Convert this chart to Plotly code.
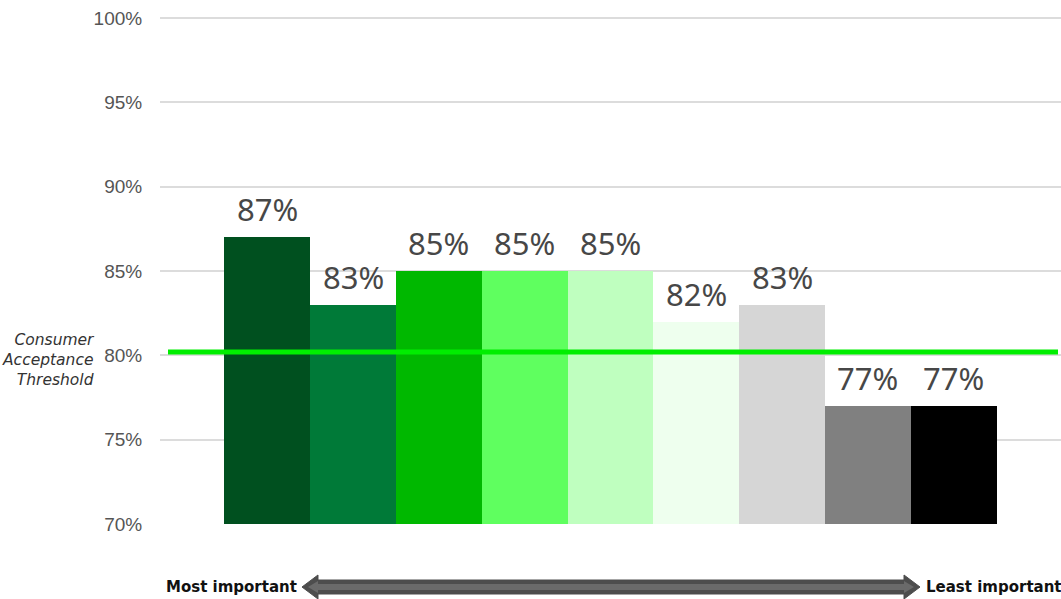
import plotly.graph_objects as go

# ---- data ----
ranks = ["1", "2", "3", "4", "5", "6", "7", "8", "9"]
values = [87, 83, 85, 85, 85, 82, 83, 77, 77]
colors = ["#00501F", "#007A38", "#00B800", "#5FFF5F", "#BFFFBF",
          "#EEFFEE", "#D6D6D6", "#808080", "#000000"]
threshold = 80.2
tick_vals = [70, 75, 80, 85, 90, 95, 100]
tick_text = [f"{v}%" for v in tick_vals]

W, H = 1061, 599
ML, MR, MT, MB = 160, 0, 16, 75
PW, PH = W - ML - MR, H - MT - MB

def px(x):
    return (x - ML) / PW

def py(y):
    return (H - MB - y) / PH

fig = go.Figure()
fig.add_trace(go.Bar(
    x=list(range(len(ranks))),
    y=[v - 70 for v in values],
    base=70,
    marker=dict(color=colors, line=dict(width=0)),
    width=1.0,
    hoverinfo="skip",
    showlegend=False,
))

for i, v in enumerate(values):
    fig.add_annotation(x=i, y=v, text=f"{v}%", showarrow=False,
                       yanchor="middle", yshift=28,
                       font=dict(family="Noto Sans", size=31, color="#474747"))

# threshold line
fig.add_shape(type="line", xref="paper", yref="y",
              x0=px(168), x1=px(1058), y0=threshold, y1=threshold,
              line=dict(color="#00EE00", width=5))

fig.add_annotation(xref="paper", yref="y", x=px(97), y=79.7,
                   xanchor="right", yanchor="middle", align="right",
                   text="<i>Consumer<br>Acceptance<br>Threshold</i>",
                   showarrow=False,
                   font=dict(family="DejaVu Sans", size=15.5, color="#333333"))

# double-headed arrow
def arrow_path(x0, x1, yc, shaft_h, head_h, head_w):
    pts = [
        (x0, yc),
        (x0 + head_w, yc - head_h),
        (x0 + head_w, yc - shaft_h),
        (x1 - head_w, yc - shaft_h),
        (x1 - head_w, yc - head_h),
        (x1, yc),
        (x1 - head_w, yc + head_h),
        (x1 - head_w, yc + shaft_h),
        (x0 + head_w, yc + shaft_h),
        (x0 + head_w, yc + head_h),
    ]
    s = "M " + " L ".join(f"{px(a):.5f},{py(b):.5f}" for a, b in pts) + " Z"
    return s

fig.add_shape(type="path", xref="paper", yref="paper",
              path=arrow_path(302, 920, 587, 7, 12, 16),
              fillcolor="#4D4D4D", line=dict(color="#4D4D4D", width=1))
fig.add_shape(type="path", xref="paper", yref="paper",
              path=arrow_path(308, 914, 587, 3, 6, 10),
              fillcolor="#6A6A6A", line=dict(width=0))

fig.add_annotation(xref="paper", yref="paper", x=px(299), y=py(587),
                   xanchor="right", yanchor="middle", text="<b>Most important</b>",
                   showarrow=False,
                   font=dict(family="DejaVu Sans", size=15, color="#111111"))
fig.add_annotation(xref="paper", yref="paper", x=px(924), y=py(587),
                   xanchor="left", yanchor="middle", text="<b>Least important</b>",
                   showarrow=False,
                   font=dict(family="DejaVu Sans", size=15, color="#111111"))

fig.update_layout(
    width=W, height=H,
    margin=dict(l=ML, r=MR, t=MT, b=MB),
    paper_bgcolor="white", plot_bgcolor="white",
    bargap=0,
    xaxis=dict(range=[-1.25, 9.25], showgrid=False, showticklabels=False,
               zeroline=False, showline=False, fixedrange=True),
    yaxis=dict(range=[70, 100.12], tickvals=tick_vals, ticktext=tick_text,
               showgrid=True, gridcolor="#DCDCDC", gridwidth=2,
               zeroline=False, showline=False,
               ticks="outside", ticklen=13, tickcolor="rgba(0,0,0,0)",
               tickfont=dict(family="Liberation Sans", size=19, color="#555555")),
)

fig.write_html("out.html")
